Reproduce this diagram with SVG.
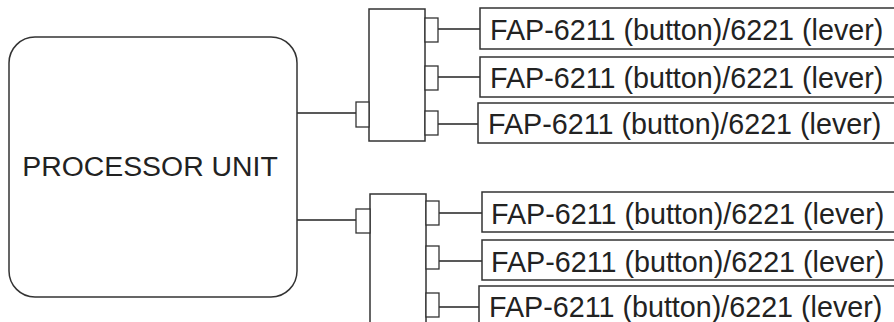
<svg xmlns="http://www.w3.org/2000/svg" width="894" height="322" viewBox="0 0 894 322">
<style>
.box{fill:#fff;stroke:#333;stroke-width:1.5}
.port{fill:#fff;stroke:#333;stroke-width:1.3}
.wire{fill:none;stroke:#222;stroke-width:1.6}
.t{font-family:"Liberation Sans",Arial,sans-serif;font-size:28.7px;fill:#222}
.p{font-family:"Liberation Sans",Arial,sans-serif;font-size:28.4px;fill:#222}
</style>
<rect width="894" height="322" fill="#fff"/>
<g id="connectors">
<line class="wire" x1="297" y1="113" x2="356" y2="113"/>
<line class="wire" x1="297" y1="220" x2="356" y2="220"/>
<line class="wire" x1="438" y1="29" x2="480" y2="29"/>
<line class="wire" x1="438" y1="77" x2="480" y2="77"/>
<line class="wire" x1="438" y1="124" x2="478" y2="124"/>
<line class="wire" x1="439" y1="213" x2="482" y2="213"/>
<line class="wire" x1="439" y1="261" x2="482" y2="261"/>
<line class="wire" x1="439" y1="307" x2="479" y2="307"/>
</g>
<g id="processor">
<rect class="box" x="9" y="37" width="288" height="260" rx="26" ry="26"/>
<text class="p" x="150" y="176" text-anchor="middle">PROCESSOR UNIT</text>
</g>
<g id="hub1">
<rect class="box" x="369" y="9" width="56" height="132"/>
<rect class="port" x="356" y="102" width="13" height="25"/>
<rect class="port" x="425" y="18" width="13" height="24"/>
<rect class="port" x="425" y="66" width="13" height="24"/>
<rect class="port" x="425" y="111" width="13" height="24"/>
</g>
<g id="hub2">
<rect class="box" x="370" y="194" width="56" height="140"/>
<rect class="port" x="356" y="209" width="14" height="24"/>
<rect class="port" x="426" y="201" width="13" height="24"/>
<rect class="port" x="426" y="246" width="13" height="23"/>
<rect class="port" x="426" y="293" width="13" height="24"/>
</g>
<g id="dev1">
<rect class="box" x="480" y="8" width="430" height="41"/>
<text class="t" x="490" y="39.5">FAP-6211 (button)/6221 (lever)</text>
</g>
<g id="dev2">
<rect class="box" x="480" y="57" width="430" height="40"/>
<text class="t" x="490" y="87.5">FAP-6211 (button)/6221 (lever)</text>
</g>
<g id="dev3">
<rect class="box" x="478" y="103" width="430" height="40"/>
<text class="t" x="488" y="133.5">FAP-6211 (button)/6221 (lever)</text>
</g>
<g id="dev4">
<rect class="box" x="482" y="192" width="430" height="40"/>
<text class="t" x="491" y="224">FAP-6211 (button)/6221 (lever)</text>
</g>
<g id="dev5">
<rect class="box" x="482" y="240" width="430" height="40"/>
<text class="t" x="491" y="272">FAP-6211 (button)/6221 (lever)</text>
</g>
<g id="dev6">
<rect class="box" x="479" y="286" width="430" height="50"/>
<text class="t" x="489" y="317">FAP-6211 (button)/6221 (lever)</text>
</g>
</svg>
